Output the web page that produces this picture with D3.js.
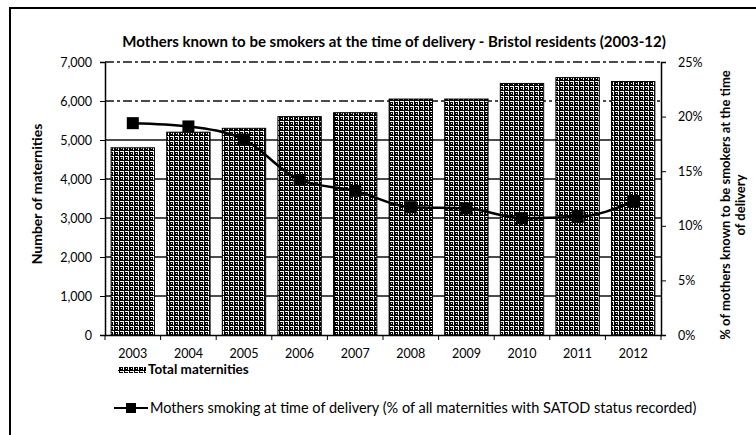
<!DOCTYPE html>
<html>
<head>
<meta charset="utf-8">
<script src="https://cdn.jsdelivr.net/npm/d3@7"></script>
<style>
  body { margin: 0; background: #fff; }
  text { font-family: Lato, "Open Sans", sans-serif; fill: #000; }
</style>
</head>
<body>
<div id="app"></div>
<script>
// Data
let years = ["2003", "2004", "2005", "2006", "2007", "2008", "2009", "2010", "2011", "2012"]
let maternities = [4800, 5200, 5300, 5600, 5700, 6050, 6050, 6450, 6600, 6500]
let smokingPct = [19.4, 19.1, 17.9, 14.2, 13.2, 11.7, 11.6, 10.7, 10.8, 12.2]
let leftTicks = [0, 1000, 2000, 3000, 4000, 5000, 6000, 7000]
let rightTicks = [0, 5, 10, 15, 20, 25]

let width = 756, height = 435
let margin = {top: 62, right: 95, bottom: 100, left: 105}

let svg = d3.select("#app").append("svg")
    .attr("width", width)
    .attr("height", height)

// texture roughly like the scanned bar fill
let defs = svg.append("defs")
let pat = defs.append("pattern")
    .attr("id", "tex")
    .attr("width", 5).attr("height", 5)
    .attr("patternUnits", "userSpaceOnUse")
pat.append("rect").attr("width", 5).attr("height", 5).attr("fill", "#000")
pat.append("rect").attr("x", 0).attr("y", 1).attr("width", 4).attr("height", 1).attr("fill", "#fff")
pat.append("rect").attr("x", 3).attr("y", 2).attr("width", 1).attr("height", 3).attr("fill", "#fff")
pat.append("rect").attr("x", 1).attr("y", 3).attr("width", 1).attr("height", 1).attr("fill", "#fff")

// outer frame
svg.append("path")
    .attr("d", "M10,435 V8 H756")
    .attr("fill", "none")
    .attr("stroke", "#000")
    .attr("stroke-width", 2)

let x = d3.scaleBand()
    .domain(years)
    .range([margin.left, width - margin.right])
    .paddingInner(0.22)
    .paddingOuter(0.11)

let y = d3.scaleLinear()
    .domain([0, 7000])
    .range([height - margin.bottom, margin.top])

let y2 = d3.scaleLinear()
    .domain([0, 25])
    .range([height - margin.bottom, margin.top])

let plotL = margin.left, plotR = width - margin.right

// gridlines
svg.append("g")
    .selectAll("line")
    .data(leftTicks.filter(d => d > 0))
    .enter().append("line")
    .attr("x1", plotL).attr("x2", plotR)
    .attr("y1", d => y(d)).attr("y2", d => y(d))
    .attr("stroke", "#111")
    .attr("stroke-width", 1.5)
    .attr("stroke-dasharray", d => d >= 6000 ? "9,3,3,3" : null)

// bars
svg.append("g")
    .selectAll("rect")
    .data(maternities)
    .enter().append("rect")
    .attr("x", (d, i) => x(years[i]))
    .attr("y", d => y(d))
    .attr("width", x.bandwidth())
    .attr("height", d => y(0) - y(d))
    .attr("fill", "url(#tex)")
    .attr("stroke", "#000")
    .attr("stroke-width", 1)

// axes
let xAxis = svg.append("g")
    .attr("transform", `translate(0,${y(0)})`)
    .call(d3.axisBottom(x).tickSize(0).tickPadding(14))
xAxis.select(".domain").attr("stroke", "#000").attr("stroke-width", 1.5)
xAxis.selectAll("text").attr("font-size", 12.5)
// category boundary ticks
xAxis.selectAll(".bnd")
    .data(d3.range(years.length + 1))
    .enter().append("line")
    .attr("x1", i => plotL + i * (plotR - plotL) / years.length)
    .attr("x2", i => plotL + i * (plotR - plotL) / years.length)
    .attr("y1", 0).attr("y2", 5)
    .attr("stroke", "#000")

let yAxis = svg.append("g")
    .attr("transform", `translate(${plotL},0)`)
    .call(d3.axisLeft(y).tickValues(leftTicks).tickSize(5).tickPadding(8)
        .tickFormat(d3.format(",")))
yAxis.select(".domain").attr("stroke-width", 1.5)
yAxis.selectAll("text").attr("font-size", 12.5)

let y2Axis = svg.append("g")
    .attr("transform", `translate(${plotR},0)`)
    .call(d3.axisRight(y2).tickValues(rightTicks).tickSize(5).tickPadding(12)
        .tickFormat(d => d + "%"))
y2Axis.select(".domain").attr("stroke-width", 1.5)
y2Axis.selectAll("text").attr("font-size", 12.5)

// line series
let line = d3.line()
    .x((d, i) => x(years[i]) + x.bandwidth() / 2)
    .y(d => y2(d))
    .curve(d3.curveMonotoneX)

svg.append("path")
    .datum(smokingPct)
    .attr("d", line)
    .attr("fill", "none")
    .attr("stroke", "#000")
    .attr("stroke-width", 2.5)

svg.append("g")
    .selectAll("rect")
    .data(smokingPct)
    .enter().append("rect")
    .attr("x", (d, i) => x(years[i]) + x.bandwidth() / 2 - 6)
    .attr("y", d => y2(d) - 6)
    .attr("width", 12).attr("height", 12)
    .attr("fill", "#000")

// title
svg.append("text")
    .attr("x", 394).attr("y", 47)
    .attr("text-anchor", "middle")
    .attr("font-size", 15)
    .attr("font-weight", "bold")
    .text("Mothers known to be smokers at the time of delivery - Bristol residents (2003-12)")

// axis titles
svg.append("text")
    .attr("transform", "translate(42,194) rotate(-90)")
    .attr("text-anchor", "middle")
    .attr("font-size", 14)
    .attr("font-weight", "bold")
    .text("Number of maternities")

svg.append("text")
    .attr("transform", "translate(730,205) rotate(-90)")
    .attr("text-anchor", "middle")
    .attr("font-size", 13)
    .attr("font-weight", "bold")
    .text("% of mothers known to be smokers at the time")
svg.append("text")
    .attr("transform", "translate(745,205) rotate(-90)")
    .attr("text-anchor", "middle")
    .attr("font-size", 13)
    .attr("font-weight", "bold")
    .text("of delivery")

// legend
let lg = svg.append("g")
lg.append("rect")
    .attr("x", 118).attr("y", 367).attr("width", 28).attr("height", 6)
    .attr("fill", "url(#tex)")
lg.append("text")
    .attr("x", 148).attr("y", 374)
    .attr("font-size", 13.5)
    .attr("font-weight", "bold")
    .text("Total maternities")

lg.append("line")
    .attr("x1", 114).attr("x2", 148)
    .attr("y1", 408).attr("y2", 408)
    .attr("stroke", "#000").attr("stroke-width", 2)
lg.append("rect")
    .attr("x", 126).attr("y", 403).attr("width", 10).attr("height", 10)
    .attr("fill", "#000")
lg.append("text")
    .attr("x", 150).attr("y", 413)
    .attr("font-size", 14.5)
    .text("Mothers smoking at time of delivery (% of all maternities with SATOD status recorded)")
</script>
</body>
</html>
